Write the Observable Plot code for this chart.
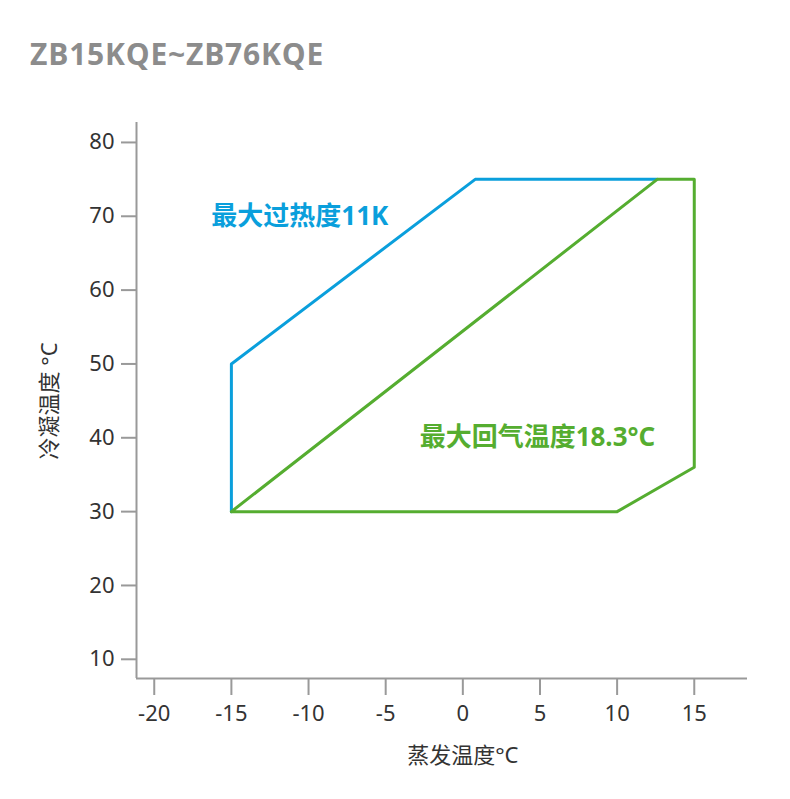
<!DOCTYPE html>
<html>
<head>
<meta charset="utf-8">
<script src="https://cdn.jsdelivr.net/npm/d3@7"></script>
<script src="https://cdn.jsdelivr.net/npm/@observablehq/plot@0.6"></script>
<style>
  body { margin: 0; background: #fff; font-family: "Noto Sans", "Noto Sans CJK SC", sans-serif; }
  #title { height: 100px; position: relative; }
  #title span { position: absolute; left: 30px; top: 33px; font-size: 30px; font-weight: 700; color: #8c8c8c; font-family: "Open Sans", "Noto Sans", sans-serif; letter-spacing: 0.8px; }
  svg text { font-family: "Noto Sans", "Noto Sans CJK SC", sans-serif; }
</style>
</head>
<body>
<div id="title"><span>ZB15KQE~ZB76KQE</span></div>
<div id="chart"></div>
<script>
// Envelope data (evaporating temp °C, condensing temp °C)
const blueX = [-15, -15, 0.8, 12.6];
const blueY = [30, 50, 75, 75];
const greenX = [-15, 12.6, 15, 15, 10, -15];
const greenY = [30, 75, 75, 36, 30, 30];
const xTicks = [-20, -15, -10, -5, 0, 5, 10, 15];
const yTicks = [10, 20, 30, 40, 50, 60, 70, 80];
const blueLabel = "最大过热度11K";
const greenLabel = "最大回气温度18.3°C";
const xLabel = "蒸发温度°C";
const yLabel = "冷凝温度 °C";

const blueColor = "#0a9fdc";
const greenColor = "#55ad30";
const xDomain = [-21.15, 18.45];
const yDomain = [7.4, 82.7];

const blue = blueX.map((x, i) => ({x, y: blueY[i]}));
const green = greenX.map((x, i) => ({x, y: greenY[i]}));

const chart = Plot.plot({
  width: 790,
  height: 699,
  marginLeft: 136,
  marginRight: 43,
  marginTop: 22,
  marginBottom: 121,
  x: {domain: xDomain},
  y: {domain: yDomain},
  style: {fontSize: "22px", color: "#333"},
  marks: [
    Plot.axisX({ticks: xTicks, tickFormat: d => String(d), tickSize: 17, tickPadding: 10, stroke: "#999", strokeWidth: 2, fill: "#333", fontSize: 22, label: null}),
    Plot.axisY({ticks: yTicks, tickFormat: d => String(d), tickSize: 15, tickPadding: 7, stroke: "#999", strokeWidth: 2, fill: "#333", fontSize: 22, label: null}),
    Plot.ruleX([xDomain[0]], {stroke: "#999", strokeWidth: 2}),
    Plot.ruleY([yDomain[0]], {stroke: "#999", strokeWidth: 2}),
    Plot.line(blue, {x: "x", y: "y", stroke: blueColor, strokeWidth: 3}),
    Plot.line(green, {x: "x", y: "y", stroke: greenColor, strokeWidth: 3}),
    Plot.text([blueLabel], {x: -16.3, y: 70, text: d => d, fill: blueColor, fontSize: 26, fontWeight: "bold", textAnchor: "start"}),
    Plot.text([greenLabel], {x: -2.8, y: 40, text: d => d, fill: greenColor, fontSize: 26, fontWeight: "bold", textAnchor: "start"}),
    Plot.text([xLabel], {x: 0, y: yDomain[0], dy: 77, text: d => d, fill: "#333", fontSize: 22, textAnchor: "middle"}),
    Plot.text([yLabel], {x: xDomain[0], dx: -87, y: 45, text: d => d, fill: "#333", fontSize: 22, rotate: -90, textAnchor: "middle"})
  ]
});
document.getElementById("chart").appendChild(chart);
</script>
</body>
</html>
